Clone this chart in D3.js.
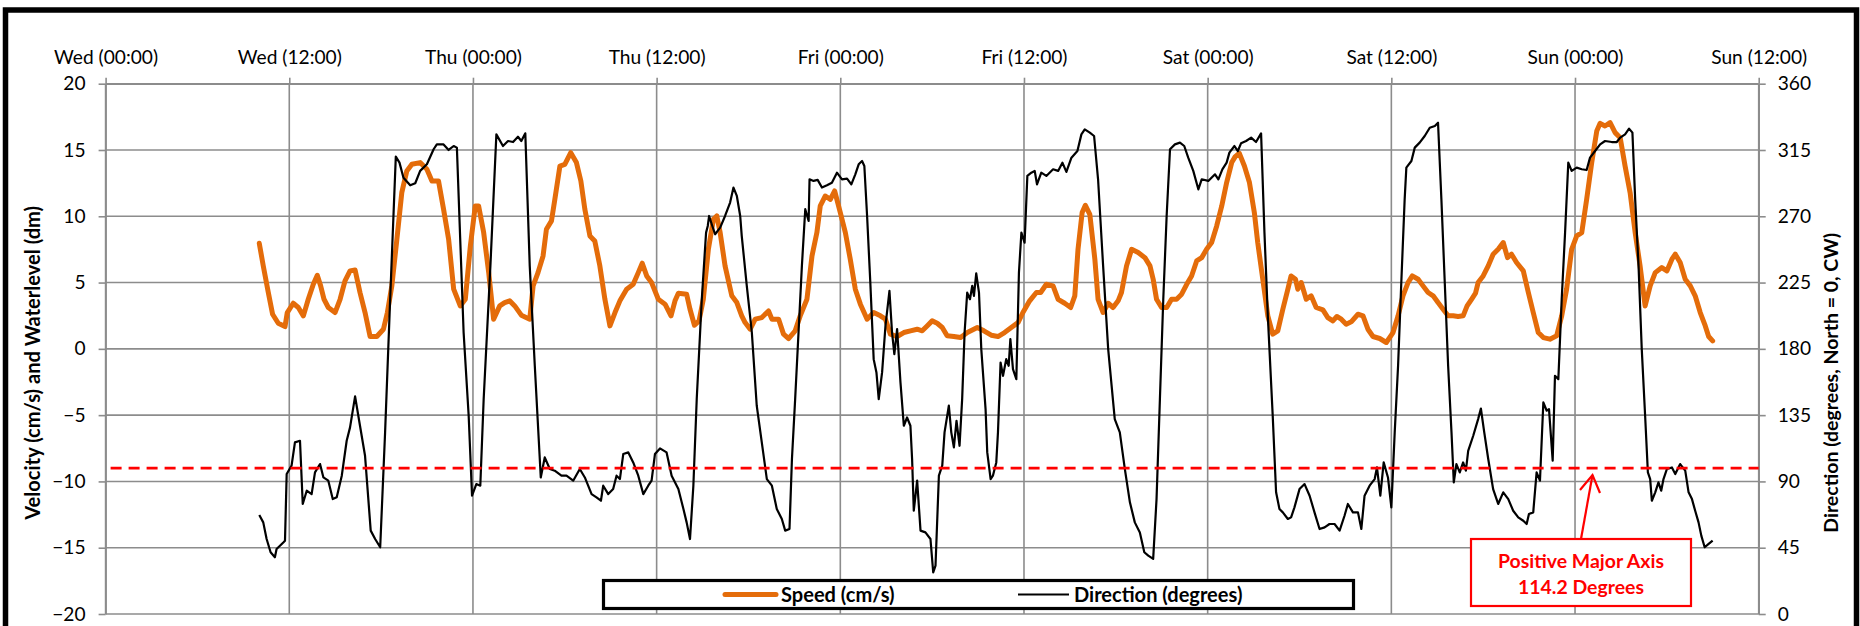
<!DOCTYPE html>
<html><head><meta charset="utf-8">
<script src="https://cdn.jsdelivr.net/npm/d3@7"></script>
<style>
body{margin:0;background:#fff;}
svg{display:block;}
text{font-family:Lato,"Open Sans",sans-serif;}
</style>
</head><body>
<svg id="chart" width="1860" height="626"></svg>
<script>
// ---------------- data ----------------
const timeTickHours = [0,12,24,36,48,60,72,84,96,108];
const timeTickLabels = ["Wed (00:00)","Wed (12:00)","Thu (00:00)","Thu (12:00)","Fri (00:00)","Fri (12:00)","Sat (00:00)","Sat (12:00)","Sun (00:00)","Sun (12:00)"];
const leftTicks = [-20,-15,-10,-5,0,5,10,15,20];
const rightTicks = [0,45,90,135,180,225,270,315,360];
const seriesNames = ["Speed (cm/s)","Direction (degrees)"];
const leftTitle = "Velocity (cm/s) and Waterlevel (dm)";
const rightTitle = "Direction (degrees, North = 0, CW)";
const annotationLines = ["Positive Major Axis","114.2 Degrees"];
const majorAxisGuide = -9.0; // in left-axis units

// hours since Wed 00:00
const speedHours = [10.04,10.30,10.63,10.91,11.28,11.72,11.87,12.26,12.59,12.92,13.24,13.57,13.83,14.05,14.27,14.55,14.99,15.32,15.64,15.97,16.30,16.62,16.95,17.28,17.72,18.15,18.41,18.70,19.03,19.35,19.68,20.01,20.55,20.99,21.32,21.75,22.08,22.41,22.74,23.17,23.50,23.83,24.15,24.37,24.70,25.03,25.35,25.75,26.07,26.40,26.73,27.16,27.71,27.93,28.25,28.58,28.80,29.13,29.35,29.68,30.00,30.39,30.76,31.05,31.31,31.64,31.96,32.29,32.62,32.95,33.28,33.60,34.04,34.47,34.80,35.06,35.35,35.67,36.11,36.55,36.94,37.20,37.42,37.96,38.18,38.47,38.77,39.05,39.38,39.71,39.93,40.15,40.47,40.91,41.24,41.56,41.78,42.11,42.44,42.87,43.31,43.53,43.97,44.29,44.62,45.05,45.38,45.82,46.15,46.47,46.69,47.02,47.35,47.63,48.00,48.33,48.65,48.98,49.31,49.75,50.18,50.62,50.95,51.27,51.71,52.15,52.58,53.02,53.35,53.67,54.00,54.33,54.66,54.98,55.42,55.86,56.30,56.95,57.38,57.86,58.30,58.73,59.17,59.61,59.93,60.37,60.81,61.09,61.46,61.90,62.23,62.66,63.05,63.32,63.53,63.80,64.01,64.30,64.63,64.84,65.17,65.50,65.82,66.15,66.37,66.70,67.03,67.46,67.90,68.23,68.44,68.66,68.99,69.32,69.64,69.97,70.30,70.63,70.95,71.28,71.61,71.93,72.26,72.59,72.92,73.24,73.57,73.80,74.07,74.40,74.73,75.05,75.27,75.60,75.93,76.25,76.58,76.91,77.24,77.45,77.74,77.89,78.11,78.44,78.76,79.09,79.53,79.85,80.18,80.44,80.73,81.05,81.38,81.82,82.15,82.47,82.80,83.24,83.67,84.11,84.44,84.76,85.09,85.37,85.75,86.07,86.40,86.73,87.05,87.38,87.71,88.04,88.36,88.69,88.95,89.24,89.50,89.67,90.00,90.33,90.65,90.98,91.31,91.59,91.85,92.18,92.62,92.95,93.27,93.60,93.93,94.36,94.80,95.13,95.45,95.78,96.11,96.44,96.76,97.09,97.42,97.64,97.96,98.29,98.62,98.95,99.27,99.60,99.93,100.25,100.58,100.91,101.24,101.67,102.00,102.33,102.55,102.87,103.20,103.53,103.85,104.18,104.51,104.73,104.99];
const speedValues = [7.96,6.26,4.25,2.61,1.93,1.68,2.74,3.44,3.12,2.49,3.74,4.87,5.55,4.75,3.74,3.12,2.74,3.74,5.13,5.88,5.95,4.25,2.74,0.93,0.93,1.48,2.74,4.75,8.27,11.78,13.42,13.92,14.05,13.54,12.66,12.66,10.53,8.27,4.50,3.24,3.74,7.76,10.78,10.78,8.77,5.75,2.24,3.24,3.49,3.62,3.24,2.54,2.24,4.75,5.75,7.01,9.02,9.65,11.28,13.79,13.92,14.80,14.05,12.66,10.53,8.52,8.14,6.26,3.74,1.73,2.74,3.62,4.50,4.87,5.75,6.46,5.50,5.00,3.74,3.37,2.49,3.62,4.20,4.12,2.99,1.78,2.11,3.74,7.51,9.77,10.03,8.77,6.26,4.00,3.49,2.49,1.98,1.48,2.24,2.36,2.86,2.24,2.24,1.11,0.78,1.36,2.49,3.74,7.01,8.77,10.78,11.53,11.28,11.91,10.28,8.77,6.76,4.50,3.37,2.24,2.74,2.49,2.24,1.11,0.93,1.23,1.36,1.48,1.36,1.73,2.11,1.93,1.61,0.98,0.93,0.85,1.23,1.61,1.36,1.03,0.93,1.23,1.61,1.98,2.74,3.62,4.25,4.25,4.87,4.75,3.74,3.44,3.12,4.00,7.51,10.28,10.83,10.15,6.76,3.74,2.74,3.44,3.12,3.62,4.25,6.26,7.51,7.26,6.88,6.26,5.25,3.74,3.12,3.12,3.74,3.74,4.12,4.87,5.50,6.63,6.88,7.51,8.02,9.27,10.78,12.54,14.05,14.50,14.75,13.79,12.54,10.28,8.02,5.25,2.49,1.11,1.36,2.99,4.50,5.50,5.25,4.50,5.00,3.74,4.00,3.12,2.94,2.36,2.11,2.44,2.24,1.86,2.04,2.61,2.49,1.48,0.93,0.78,0.48,1.23,2.49,4.00,5.00,5.50,5.25,4.75,4.25,4.00,3.49,2.99,2.49,2.49,2.44,2.49,3.24,3.74,4.20,5.00,5.50,6.26,7.14,7.51,8.02,6.88,7.14,6.51,5.88,4.25,2.74,1.23,0.85,0.73,0.98,2.49,4.50,7.51,8.52,8.77,11.28,14.05,16.43,17.01,16.81,17.06,16.31,15.93,13.79,11.78,8.77,6.26,3.24,4.75,5.75,6.13,5.88,6.76,7.14,6.51,5.25,4.75,4.00,2.74,1.73,0.93,0.60];

const dirHours = [10.04,10.30,10.52,10.78,11.06,11.17,11.61,11.72,11.83,12.15,12.37,12.70,12.88,13.14,13.46,13.68,14.01,14.23,14.55,14.84,15.10,15.43,15.75,15.97,16.30,16.62,16.95,17.32,17.61,17.94,18.26,18.59,18.96,19.20,19.46,19.90,20.23,20.55,20.99,21.43,21.64,22.08,22.41,22.74,22.95,23.39,23.72,23.94,24.22,24.48,24.70,25.14,25.53,25.96,26.29,26.62,26.94,27.16,27.42,27.71,28.04,28.43,28.69,29.02,29.34,29.78,30.11,30.55,30.98,31.31,31.75,32.07,32.36,32.51,32.84,33.16,33.38,33.60,33.82,34.15,34.47,34.80,35.13,35.45,35.67,35.89,36.22,36.65,36.98,37.42,37.75,37.96,38.18,38.40,38.62,38.95,39.23,39.34,39.43,39.60,39.82,40.15,40.47,40.80,41.02,41.24,41.46,41.56,41.89,42.22,42.54,42.87,43.20,43.53,43.85,44.18,44.40,44.68,44.84,45.05,45.27,45.49,45.71,45.93,45.99,46.25,46.52,46.80,47.13,47.45,47.78,48.11,48.44,48.72,48.98,49.20,49.42,49.57,49.75,49.96,50.18,50.36,50.51,50.73,50.95,51.21,51.38,51.53,51.71,51.93,52.15,52.36,52.58,52.69,52.80,53.02,53.24,53.56,53.89,54.07,54.22,54.44,54.66,54.81,55.09,55.25,55.42,55.59,55.79,55.96,56.12,56.29,56.47,56.62,56.73,56.88,57.06,57.21,57.49,57.60,57.82,57.97,58.19,58.30,58.47,58.63,58.84,59.00,59.11,59.28,59.50,59.67,59.83,60.04,60.22,60.48,60.70,60.85,61.13,61.46,61.90,62.23,62.51,62.77,63.10,63.49,63.75,63.97,64.30,64.58,64.84,65.17,65.50,65.93,66.26,66.59,66.92,67.24,67.57,67.86,68.12,68.44,68.66,68.88,69.10,69.32,69.54,69.86,70.19,70.47,70.73,71.06,71.39,71.61,72.04,72.48,72.70,72.96,73.24,73.42,73.75,73.97,74.18,74.51,74.84,75.16,75.49,75.71,75.93,76.25,76.47,76.69,76.91,77.24,77.45,77.67,78.00,78.33,78.66,78.98,79.31,79.64,79.96,80.29,80.62,80.94,81.16,81.49,81.82,82.04,82.25,82.58,82.91,83.06,83.28,83.50,83.78,84.00,84.22,84.44,84.65,84.87,84.98,85.31,85.53,85.85,86.18,86.51,86.84,87.05,87.27,87.49,87.71,87.93,88.08,88.25,88.47,88.69,88.87,89.02,89.35,89.67,89.85,90.07,90.33,90.65,90.98,91.31,91.64,91.96,92.29,92.62,92.84,92.99,93.27,93.49,93.71,93.93,94.15,94.30,94.54,94.69,94.91,95.13,95.35,95.56,95.78,96.11,96.44,96.76,96.98,97.31,97.64,97.96,98.40,98.73,98.95,99.27,99.53,99.75,99.93,100.15,100.36,100.58,100.76,100.91,101.02,101.24,101.45,101.63,101.78,102.00,102.33,102.55,102.87,103.20,103.42,103.64,103.85,104.07,104.25,104.47,104.73,104.99];
const dirValues = [67.2,62.2,50.9,41.9,38.5,44.1,48.6,49.8,95.0,100.7,116.5,117.6,74.7,83.7,81.4,96.1,101.8,92.7,90.5,78.0,79.2,93.9,117.6,126.7,147.7,127.8,107.4,56.6,50.9,45.3,123.3,213.7,310.5,306.4,296.2,291.0,292.4,300.8,305.3,315.5,318.8,318.8,315.0,317.7,316.6,191.1,134.6,80.3,88.2,87.1,145.9,236.3,325.6,317.7,321.1,320.4,324.0,321.1,326.3,236.3,168.5,92.7,106.3,98.4,97.3,93.9,93.9,90.5,98.4,92.7,81.4,79.2,76.9,87.1,81.4,84.8,93.9,91.6,108.6,109.7,102.9,93.9,81.4,87.1,90.5,108.6,112.4,109.7,93.9,84.8,71.3,62.2,50.9,87.1,145.9,213.7,258.9,263.4,270.2,264.6,257.8,262.3,270.2,279.3,289.5,283.8,270.2,256.7,222.8,191.1,141.4,116.5,91.6,87.1,71.3,64.5,56.6,57.7,105.2,145.9,191.1,236.3,274.8,266.8,295.1,294.0,294.7,289.5,291.0,292.8,299.6,295.1,295.6,291.7,298.5,305.3,307.5,304.1,270.2,225.0,173.0,164.0,145.9,164.0,195.6,219.4,191.1,176.4,193.4,157.2,127.8,133.4,127.8,105.2,70.1,90.5,56.6,55.4,50.9,28.3,32.8,93.9,100.7,123.3,141.4,123.3,113.1,131.2,114.2,145.9,191.1,218.2,213.7,222.8,216.0,231.3,218.2,179.8,139.1,109.7,91.6,93.9,102.9,123.3,170.7,161.7,173.0,168.5,186.6,166.2,159.4,231.8,258.9,252.1,297.4,299.6,300.8,291.7,299.6,297.4,301.9,300.8,306.4,300.1,309.8,314.3,325.6,329.0,326.8,324.5,295.1,236.3,179.8,132.3,123.3,98.4,75.8,62.2,55.4,41.9,39.6,37.4,78.0,145.9,213.7,270.2,315.5,318.8,320.0,317.7,309.8,300.8,288.3,295.1,294.0,298.5,295.1,301.9,306.4,313.2,317.7,314.3,319.5,321.1,323.4,320.4,326.3,258.9,202.4,134.6,82.6,71.3,69.0,64.5,65.6,72.4,84.8,88.2,80.3,69.0,57.7,58.8,61.1,61.1,56.6,66.7,74.7,69.0,69.0,57.7,80.3,87.1,91.6,99.5,80.3,102.9,92.7,72.4,123.3,168.5,225.0,281.5,303.0,307.5,316.6,320.0,324.5,330.1,331.3,333.5,281.5,225.0,168.5,123.3,89.3,101.8,96.1,102.9,97.3,110.8,121.0,132.3,139.5,123.3,105.2,84.8,74.7,82.6,78.0,70.1,65.6,63.3,61.1,67.9,69.0,96.1,90.5,143.6,138.0,139.1,104.1,161.7,159.4,213.7,258.9,306.4,300.8,303.0,301.9,301.4,309.8,314.3,318.8,321.1,320.4,320.4,323.4,325.6,329.5,326.8,281.5,236.3,179.8,134.6,96.1,91.6,76.9,82.6,89.4,83.7,91.6,98.4,99.5,95.0,101.8,97.3,82.6,78.0,70.1,62.2,53.2,45.3,47.6,49.8];

// ---------------- layout ----------------
const W = 1860, H = 626;
const L = 105.6, R = 1758.7, T = 83.7, B = 614;
const gridColor = "#8c8c8c";
const orange = "#E46C0A";

const svg = d3.select("#chart");
svg.append("rect").attr("width",W).attr("height",H).attr("fill","#fff");

const x = d3.scaleLinear().domain([0,108]).range([L,R]);
const yL = d3.scaleLinear().domain([-20,20]).range([B,T]);
const yR = d3.scaleLinear().domain([0,360]).range([B,T]);

// scale a text's font-size so that it spans a target width
function fitSize(node, target){
  const base = parseFloat(node.style.fontSize) || 18;
  const w = node.getComputedTextLength();
  return w > 0 ? base * target / w : base;
}

// outer frame
svg.append("rect").attr("x",5.5).attr("y",10).attr("width",1851).attr("height",800)
  .attr("fill","none").attr("stroke","#000").attr("stroke-width",5.5);

// gridlines
const grid = svg.append("g");
grid.selectAll("line.h").data(leftTicks).join("line").attr("class","h")
  .attr("x1",L).attr("x2",R).attr("y1",d=>yL(d)).attr("y2",d=>yL(d))
  .attr("stroke",gridColor).attr("stroke-width",1.6);
grid.selectAll("line.v").data(timeTickHours).join("line").attr("class","v")
  .attr("x1",d=>x(d)).attr("x2",d=>x(d)).attr("y1",T).attr("y2",B)
  .attr("stroke",gridColor).attr("stroke-width",1.6);

function styleAxis(g){
  g.selectAll(".domain").attr("stroke",gridColor).attr("stroke-width",1.6);
  g.selectAll(".tick line").attr("stroke",gridColor).attr("stroke-width",1.6);
  g.selectAll(".tick text").attr("fill","#000").style("font-size","18px").style("font-family","Lato, 'Open Sans', sans-serif");
}
// top time axis
const topAxis = svg.append("g").attr("transform",`translate(0,${T})`)
  .call(d3.axisTop(x).tickValues(timeTickHours).tickFormat((d,i)=>timeTickLabels[i]).tickSize(6).tickSizeOuter(0).tickPadding(14))
  .call(styleAxis);
// left axis
const leftAxis = svg.append("g").attr("transform",`translate(${L},0)`)
  .call(d3.axisLeft(yL).tickValues(leftTicks).tickSize(7).tickSizeOuter(0).tickPadding(13))
  .call(styleAxis);
// right axis
const rightAxis = svg.append("g").attr("transform",`translate(${R},0)`)
  .call(d3.axisRight(yR).tickValues(rightTicks).tickSize(7).tickSizeOuter(0).tickPadding(12))
  .call(styleAxis);
// size tick labels so "Wed (00:00)" spans ~105px like the reference
const tickFont = fitSize(topAxis.select(".tick text").node(), 104);
svg.selectAll(".tick text").style("font-size", tickFont + "px");

// axis titles
const lt = svg.append("text").attr("transform",`translate(40,${(T+B)/2 + 14}) rotate(-90)`)
  .attr("text-anchor","middle").attr("font-weight","bold").style("font-size","18px").text(leftTitle);
lt.style("font-size", fitSize(lt.node(), 314) + "px");
const rt = svg.append("text").attr("transform",`translate(1838,${(T+B)/2 + 34}) rotate(-90)`)
  .attr("text-anchor","middle").attr("font-weight","bold").style("font-size","18px").text(rightTitle);
rt.style("font-size", fitSize(rt.node(), 300) + "px");

// series
const speedData = speedHours.map((h,i)=>({h, v:speedValues[i]}));
const dirData = dirHours.map((h,i)=>({h, v:dirValues[i]}));
svg.append("path").datum(speedData)
  .attr("d", d3.line().x(d=>x(d.h)).y(d=>yL(d.v)))
  .attr("fill","none").attr("stroke",orange).attr("stroke-width",5)
  .attr("stroke-linejoin","round").attr("stroke-linecap","round");
svg.append("path").datum(dirData)
  .attr("d", d3.line().x(d=>x(d.h)).y(d=>yR(d.v)))
  .attr("fill","none").attr("stroke","#000").attr("stroke-width",2.2)
  .attr("stroke-linejoin","round");

// major axis guide
svg.append("line").attr("x1",L+5).attr("x2",R).attr("y1",yL(majorAxisGuide)).attr("y2",yL(majorAxisGuide))
  .attr("stroke","#ff0000").attr("stroke-width",2.8).attr("stroke-dasharray","11,7");

// legend
const lg = svg.append("g");
lg.append("rect").attr("x",603.5).attr("y",580.5).attr("width",750).attr("height",28)
  .attr("fill","#fff").attr("stroke","#000").attr("stroke-width",3.2);
lg.append("line").attr("x1",725).attr("x2",776).attr("y1",594.5).attr("y2",594.5)
  .attr("stroke",orange).attr("stroke-width",5).attr("stroke-linecap","round");
const l1 = lg.append("text").attr("x",781).attr("y",594.5).attr("dy","0.35em").attr("font-weight","bold")
  .style("font-size","18px").text(seriesNames[0]);
lg.append("line").attr("x1",1018).attr("x2",1069).attr("y1",594.5).attr("y2",594.5)
  .attr("stroke","#000").attr("stroke-width",2.2);
const l2 = lg.append("text").attr("x",1074).attr("y",594.5).attr("dy","0.35em").attr("font-weight","bold")
  .style("font-size","18px").text(seriesNames[1]);
const legFont = (fitSize(l1.node(),114) + fitSize(l2.node(),168)) / 2;
l1.style("font-size", legFont + "px");
l2.style("font-size", legFont + "px");

// annotation
const an = svg.append("g");
an.append("rect").attr("x",1471).attr("y",539).attr("width",220).attr("height",67)
  .attr("fill","#fff").attr("stroke","#ff0000").attr("stroke-width",2.2);
const annTexts = annotationLines.map((t,i)=>
  an.append("text").attr("x",1581).attr("y",561+i*26).attr("dy","0.35em").attr("text-anchor","middle")
    .attr("font-weight","bold").attr("fill","#ff0000").style("font-size","18px").text(t));
const annFont = fitSize(annTexts[0].node(), 166);
annTexts.forEach(t=>t.style("font-size", annFont + "px"));
an.append("line").attr("x1",1581).attr("y1",539).attr("x2",1592.5).attr("y2",475)
  .attr("stroke","#ff0000").attr("stroke-width",2.2);
an.append("polyline").attr("points","1580,490 1592.5,475 1600,493")
  .attr("fill","none").attr("stroke","#ff0000").attr("stroke-width",2.2);
</script>
</body></html>
